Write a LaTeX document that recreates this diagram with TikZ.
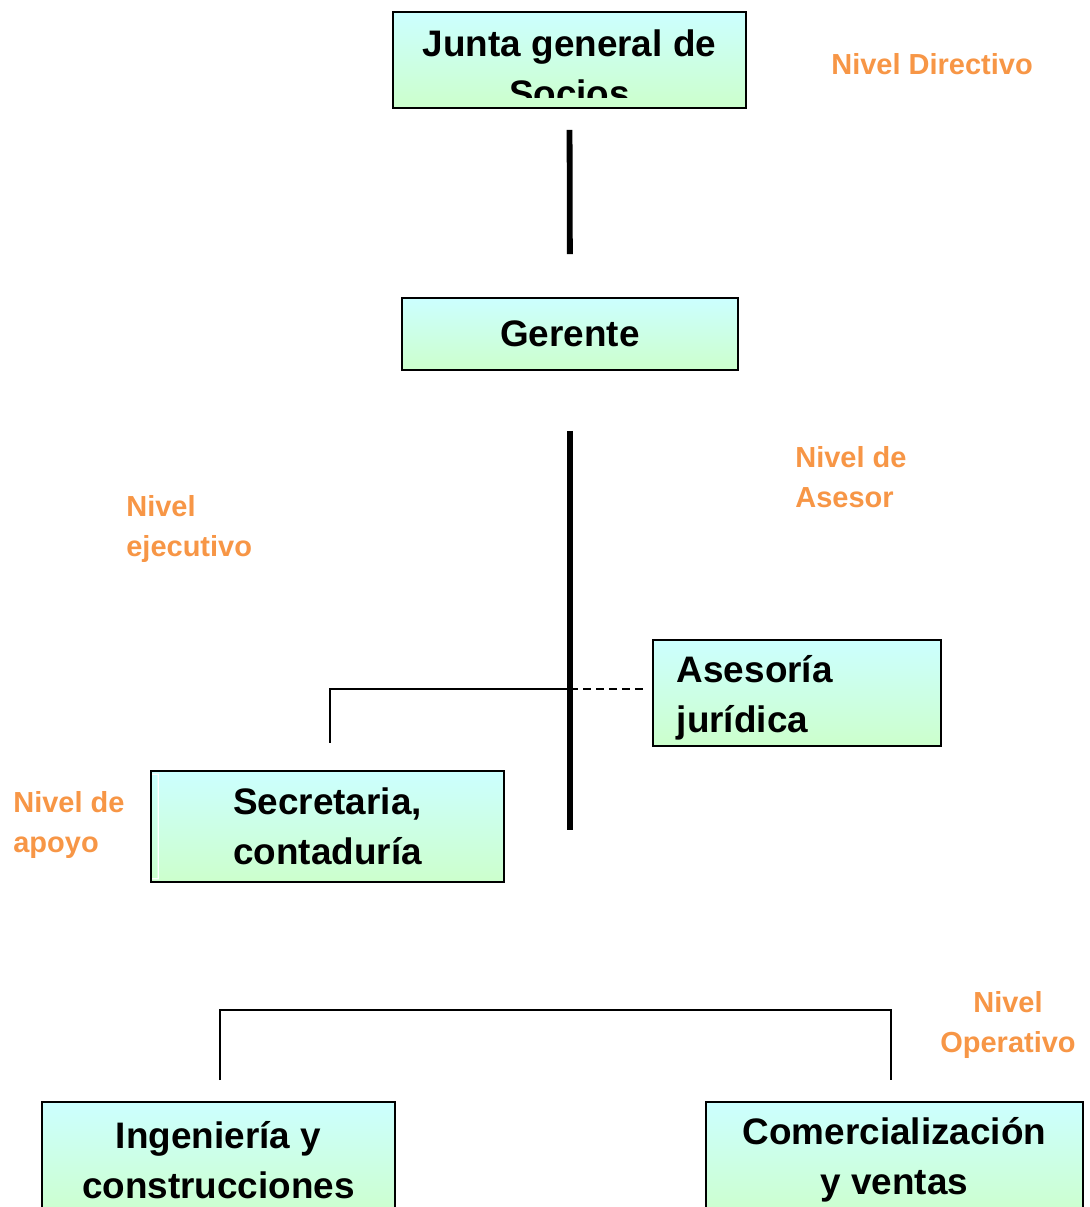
\documentclass[tikz,border=0pt]{standalone}
\usepackage{fontspec}
\setmainfont{Liberation Sans}
\usetikzlibrary{positioning}
\definecolor{nivelorange}{RGB}{247,150,70}
\definecolor{boxtop}{RGB}{204,255,255}
\definecolor{boxbottom}{RGB}{204,255,204}

\begin{document}
\begin{tikzpicture}[
        x = 0.02cm, y = -0.02cm, % one unit per pixel, y going down
        unit/.style = {draw, line width=0.9pt, top color=boxtop, bottom color=boxbottom,
                       font=\bfseries\fontsize{21}{28.5}\selectfont, align=center, inner sep=0pt}, % boxes
        unittext/.style = {font=\bfseries\fontsize{21}{28.5}\selectfont, inner sep=0pt,
                           minimum width=0pt, minimum height=0pt}, % text clipped in a box
        level/.style = {text=nivelorange, font=\bfseries\fontsize{16.5}{22.5}\selectfont,
                        align=left, inner sep=0pt}, % level labels
        spine/.style = {line width=3.3pt}, % thick line
        branch/.style = {line width=0.9pt} % thin lines
        ]

  \clip (0,0) rectangle (1089,1207);

  % boxes
  \node[unit, minimum width=7.06cm, minimum height=1.92cm,
        path picture={
          \clip (path picture bounding box.north west) rectangle ([yshift=0.2cm]path picture bounding box.south east);
          \node[unittext, align=center] (juntatext)
            at ([yshift=-0.17cm]path picture bounding box.center) {Junta general de\\Socios};
        }] (junta) at (569.5,60) {};
  \node[unit, minimum width=6.72cm, minimum height=1.44cm] (gerente) at (570,334) {Gerente};
  \node[unit, minimum width=5.76cm, minimum height=2.12cm,
        path picture={
          \node[unittext, align=left, anchor=west] (asesoriatext)
            at ([xshift=0.46cm,yshift=-0.1cm]path picture bounding box.west) {Asesoría\\jurídica};
        }] (asesoria) at (797,693) {};
  \node[unit, minimum width=7.06cm, minimum height=2.22cm] (secretaria) at (327.5,826.5) {Secretaria,\\contaduría};
  \node[unit, minimum width=7.06cm, minimum height=2.32cm] (ingenieria) at (218.5,1160) {Ingeniería y\\construcciones};
  \node[unit, minimum width=7.54cm, minimum height=2.32cm] (comercial) at (894.5,1160) {Comercialización\\y ventas};

  \draw[white, line width=0.8pt] ([xshift=0.04cm,yshift=-0.08cm]secretaria.north west) -- ++(0.12cm,0)
    -- ([xshift=0.16cm,yshift=0.08cm]secretaria.south west) -- ++(-0.12cm,0);

  % levels
  \node[level, anchor=west] (directivo) at (831,64) {Nivel Directivo};
  \node[level, anchor=west] (asesor) at (795,477) {Nivel de\\Asesor};
  \node[level, anchor=west] (ejecutivo) at (126,529) {Nivel\\ejecutivo};
  \node[level, anchor=west] (apoyo) at (13,825) {Nivel de\\apoyo};
  \node[level, align=center] (operativo) at (1008,1025) {Nivel\\Operativo};

  \coordinate (hub) at (570,689);
  \coordinate (spineend) at (570,830);
  \coordinate (opbar) at (555,1010);

  \draw[spine, shorten <=0.42cm, shorten >=0.86cm] (junta.south) -- (gerente.north);
  \draw[spine, shorten <=1.2cm] (gerente.south) -- (spineend);
  \draw[branch, shorten >=0.54cm] (hub) -| ([xshift=0.05cm]secretaria.north);
  \draw[branch, dash pattern=on 0.16cm off 0.1cm, shorten >=0.1cm] (hub) -- (hub -| asesoria.west);
  \draw[branch, shorten <=0.42cm, shorten >=0.42cm] ([xshift=0.03cm]ingenieria.north) |- (opbar) -| ([xshift=-0.07cm]comercial.north);

\end{tikzpicture}
\end{document}
